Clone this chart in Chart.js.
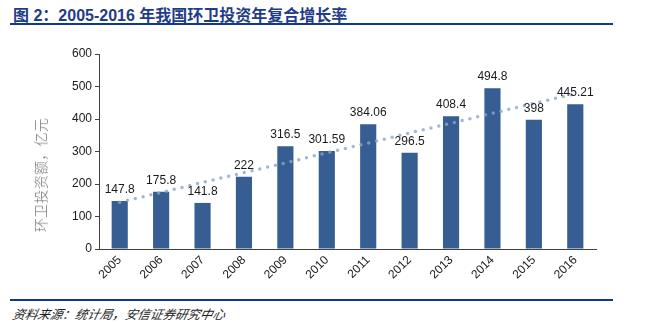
<!DOCTYPE html>
<html>
<head>
<meta charset="utf-8">
<script src="https://cdn.jsdelivr.net/npm/chart.js@4"></script>
<style>
  body { margin: 0; width: 645px; height: 323px; background: #fff; position: relative; overflow: hidden; }
  .title { position: absolute; left: 13px; top: 2px; font: bold 16px "Liberation Sans", "Noto Sans CJK SC", sans-serif; color: #1f3c88; }
  .rule { position: absolute; left: 10px; width: 603px; height: 2px; background: #0f3a8a; }
  .source { position: absolute; left: 13px; top: 304px; font: italic 12.5px "Noto Sans CJK SC", sans-serif; color: #222; transform: skewX(-12deg); transform-origin: left; }
  .chart-box { position: absolute; left: 0; top: 40px; width: 645px; height: 255px; }
  .ytitle { position: absolute; left: 40px; top: 175px; white-space: nowrap; transform: translate(-50%, -50%) rotate(-90deg);
            font: 300 14px "Noto Sans CJK SC", sans-serif; color: #777; letter-spacing: 0.3px; }
</style>
</head>
<body>
<div class="title">图 2：2005-2016 年我国环卫投资年复合增长率</div>
<div class="rule" style="top:23px"></div>
<div class="chart-box"><canvas id="chart"></canvas></div>
<div class="ytitle">环卫投资额，亿元</div>
<div class="rule" style="top:299px"></div>
<div class="source">资料来源：统计局，安信证券研究中心</div>
<script>
const years = ['2005', '2006', '2007', '2008', '2009', '2010', '2011', '2012', '2013', '2014', '2015', '2016'];
const investment = [147.8, 175.8, 141.8, 222, 316.5, 301.59, 384.06, 296.5, 408.4, 494.8, 398, 445.21];
// dotted trend line
const trend = [144, 174, 205, 235, 265, 296, 326, 357, 387, 418, 448, 478];
const yTicks = [0, 100, 200, 300, 400, 500, 600];

const FONT = '"Liberation Sans", Arial, sans-serif';

const barLabels = {
  id: 'barLabels',
  afterDatasetsDraw(chart) {
    const ctx = chart.ctx;
    const meta = chart.getDatasetMeta(1);
    ctx.save();
    ctx.font = '12px ' + FONT;
    ctx.fillStyle = '#1a1a1a';
    ctx.textAlign = 'center';
    ctx.textBaseline = 'alphabetic';
    meta.data.forEach((bar, i) => {
      ctx.fillText(String(investment[i]), bar.x, bar.y - 8);
    });
    ctx.restore();
  }
};

new Chart(document.getElementById('chart'), {
  data: {
    labels: years,
    datasets: [
      {
        type: 'line',
        data: trend,
        borderColor: 'rgba(140, 165, 200, 0.8)',
        borderWidth: 3.5,
        borderDash: [0, 8],
        borderCapStyle: 'round',
        pointRadius: 0,
        fill: false,
        order: 0
      },
      {
        type: 'bar',
        data: investment,
        backgroundColor: '#365e92',
        categoryPercentage: 1,
        barPercentage: 0.39,
        order: 1
      }
    ]
  },
  plugins: [barLabels],
  options: {
    responsive: true,
    maintainAspectRatio: false,
    animation: false,
    layout: { padding: { left: 30, right: 49, top: 14, bottom: 0 } },
    plugins: {
      legend: { display: false },
      tooltip: { enabled: false }
    },
    scales: {
      x: {
        grid: { display: false, drawTicks: false },
        border: { color: '#404040', width: 1 },
        ticks: {
          font: { size: 12, family: FONT },
          color: '#1a1a1a',
          minRotation: 45,
          maxRotation: 45,
          padding: 4
        },
        afterFit(scale) { scale.height = 46; }
      },
      y: {
        min: 0,
        max: 600,
        afterBuildTicks(scale) { scale.ticks = yTicks.map(v => ({ value: v })); },
        grid: { drawOnChartArea: false, tickLength: 4, color: '#404040' },
        border: { color: '#404040', width: 1 },
        ticks: {
          font: { size: 12, family: FONT },
          color: '#1a1a1a',
          padding: 3
        },
        afterFit(scale) { scale.width = 69; }
      }
    }
  }
});
</script>
</body>
</html>
